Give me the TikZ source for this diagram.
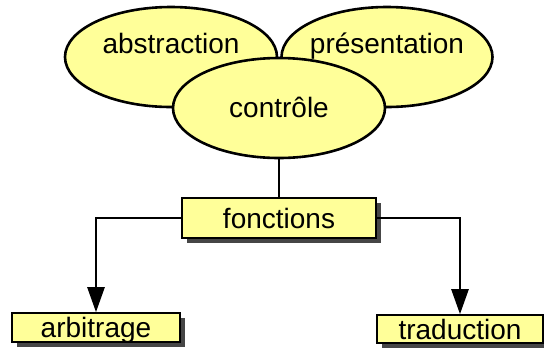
\documentclass[tikz,border=0pt]{standalone}
\usepackage{fontspec}
\setmainfont{Liberation Sans}
\usetikzlibrary{shapes.geometric,arrows.meta,shadows}
\definecolor{paleyellow}{RGB}{255,255,153}
\definecolor{shadowgray}{RGB}{70,70,70}
\tikzset{
  blob/.style={ellipse, draw=black, line width=2.6pt, fill=paleyellow, inner sep=0pt},
  word/.style={font=\fontsize{28}{32}\selectfont, text height=20pt, text depth=0pt, inner sep=0pt},
  boxnode/.style={rectangle, draw=black, line width=1.6pt, fill=paleyellow,
    font=\fontsize{28}{32}\selectfont, text height=20pt, text depth=0pt, inner sep=0pt,
    drop shadow={shadow xshift=5pt, shadow yshift=-5pt, fill=shadowgray, opacity=1}},
  link/.style={line width=2.6pt, draw=black},
  arrowlink/.style={link, -{Triangle[width=17pt,length=25pt]}}
}
\begin{document}
\begin{tikzpicture}[x=1pt, y=-1pt]
  \useasboundingbox (0,0) rectangle (544,354);

  % three overlapping ellipses
  \node[blob, minimum width=212pt, minimum height=100pt] (abs) at (171,57) {};
  \node[word] (abslabel) at (171,43) {abstraction};
  \node[blob, minimum width=211pt, minimum height=100pt] (pres) at (387,57) {};
  \node[word] (preslabel) at (387,43) {présentation};
  \node[blob, minimum width=212pt, minimum height=100pt] (ctrl) at (279,108) {};
  \node[word] (ctrllabel) at (279,107) {contrôle};

  % boxes
  \node[boxnode, minimum width=194pt, minimum height=40pt] (fon) at (279,218) {fonctions};
  \node[boxnode, minimum width=168pt, minimum height=29pt] (arb) at (96,327.5) {arbitrage};
  \node[boxnode, minimum width=166pt, minimum height=28pt] (tra) at (460,329) {traduction};

  % connectors
  \draw[link, line width=1.8pt] (ctrl.south) -- (fon.north);
  \draw[arrowlink] (fon.west) -| (arb.north);
  \draw[arrowlink] (fon.east) -| (tra.north);
\end{tikzpicture}
\end{document}
